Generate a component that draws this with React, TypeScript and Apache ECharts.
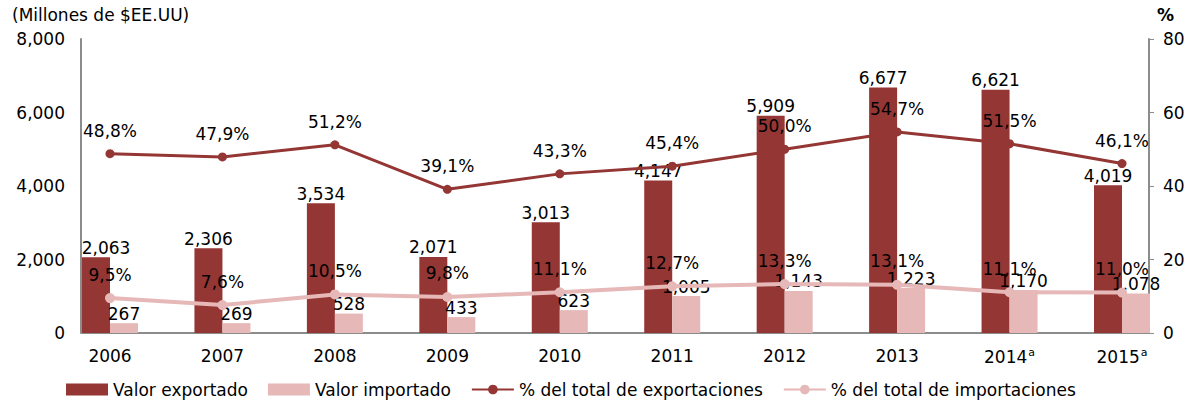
import React, { useEffect, useRef } from "react";
import * as echarts from "echarts";

const years = ["2006", "2007", "2008", "2009", "2010", "2011", "2012", "2013", "2014{sup|a}", "2015{sup|a}"];
const exportValues = [2063, 2306, 3534, 2071, 3013, 4147, 5909, 6677, 6621, 4019];
const importValues = [267, 269, 528, 433, 623, 1005, 1143, 1223, 1170, 1078];
const exportShare = [48.8, 47.9, 51.2, 39.1, 43.3, 45.4, 50.0, 54.7, 51.5, 46.1];
const importShare = [9.5, 7.6, 10.5, 9.8, 11.1, 12.7, 13.3, 13.1, 11.1, 11.0];
const leftTicks = { min: 0, max: 8000, interval: 2000 };
const rightTicks = { min: 0, max: 80, interval: 20 };

const DARK = "#943634";
const LIGHT = "#E6B9B8";
const FONT = "DejaVu Sans";
const FS = 17;

const W = 1196;
const H = 402;
const GRID_LEFT = 110;
const GRID_RIGHT = 74;
const GRID_TOP = 39;
const GRID_BOTTOM = 69;
const AXIS_LEFT_X = 81;
const AXIS_RIGHT_X = 1149;

const fmtNum = (v: number) => v.toLocaleString("en-US");
const fmtPct = (v: number) => v.toFixed(1).replace(".", ",") + "%";

export default function App() {
  const ref = useRef<HTMLDivElement>(null);
  useEffect(() => {
    if (!ref.current) return;
    const chart = echarts.init(ref.current, null, { renderer: "svg" });
    const labelBase = { color: "#000", fontFamily: FONT, fontSize: FS };
    chart.setOption({
      animation: false,
      textStyle: { fontFamily: FONT },
      title: [
        {
          text: "(Millones de $EE.UU)",
          left: 12,
          top: 6,
          padding: 0,
          textStyle: { fontFamily: FONT, fontSize: FS, fontWeight: "normal", color: "#000" },
        },
        {
          text: "%",
          left: 1157,
          top: 6,
          padding: 0,
          textStyle: { fontFamily: FONT, fontSize: FS, fontWeight: "bold", color: "#000" },
        },
      ],
      grid: { left: GRID_LEFT, right: GRID_RIGHT, top: GRID_TOP, bottom: GRID_BOTTOM, containLabel: false },
      legend: {
        top: 381,
        left: 66,
        padding: 0,
        itemWidth: 42,
        itemHeight: 12,
        itemGap: 20,
        textStyle: { fontFamily: FONT, fontSize: FS, color: "#000" },
        data: [
          { name: "Valor exportado", icon: "rect" },
          { name: "Valor importado", icon: "rect" },
          "% del total de exportaciones",
          "% del total de importaciones",
        ],
      },
      xAxis: {
        type: "category",
        data: years,
        boundaryGap: false,
        axisLine: { show: false },
        axisTick: { show: false },
        axisLabel: {
          interval: 0,
          color: "#000",
          fontFamily: FONT,
          fontSize: FS,
          margin: 14,
          rich: {
            sup: { fontSize: 11, fontFamily: FONT, color: "#000", verticalAlign: "top", padding: [0, 0, 9, 1] },
          },
        },
      },
      yAxis: [
        {
          type: "value",
          ...leftTicks,
          position: "left",
          offset: GRID_LEFT - AXIS_LEFT_X,
          axisLine: { show: true, lineStyle: { color: "#8c8c8c", width: 2 } },
          axisTick: { show: false },
          splitLine: { show: false },
          axisLabel: {
            color: "#000",
            fontFamily: FONT,
            fontSize: FS,
            margin: 16,
            formatter: (v: number) => fmtNum(v),
          },
        },
        {
          type: "value",
          ...rightTicks,
          position: "right",
          offset: AXIS_RIGHT_X - (W - GRID_RIGHT),
          axisLine: { show: true, lineStyle: { color: "#8c8c8c", width: 2 } },
          axisTick: { show: true, length: 5, lineStyle: { color: "#8c8c8c" } },
          splitLine: { show: false },
          axisLabel: { color: "#000", fontFamily: FONT, fontSize: FS, margin: 14 },
        },
      ],
      graphic: [
        {
          type: "line",
          shape: { x1: AXIS_LEFT_X, y1: H - GRID_BOTTOM, x2: AXIS_RIGHT_X, y2: H - GRID_BOTTOM },
          style: { stroke: "#8c8c8c", lineWidth: 2 },
          z: 1,
        },
      ],
      series: [
        {
          name: "Valor exportado",
          type: "bar",
          yAxisIndex: 0,
          barWidth: 28,
          barGap: "0%",
          itemStyle: { color: DARK },
          z: 2,
          data: exportValues.map((v, i) =>
            i === 0 ? { value: v, label: { offset: [10, 0] } } : v
          ),
          label: {
            show: true,
            position: "top",
            distance: 1,
            ...labelBase,
            formatter: (p: any) => fmtNum(p.value),
          },
        },
        {
          name: "Valor importado",
          type: "bar",
          yAxisIndex: 0,
          barWidth: 28,
          barGap: "0%",
          itemStyle: { color: LIGHT },
          z: 2,
          data: importValues,
          label: {
            show: true,
            position: "top",
            distance: 1,
            ...labelBase,
            formatter: (p: any) => fmtNum(p.value),
          },
        },
        {
          name: "% del total de exportaciones",
          type: "line",
          yAxisIndex: 1,
          data: exportShare,
          symbol: "circle",
          symbolSize: 9,
          lineStyle: { color: DARK, width: 3 },
          itemStyle: { color: DARK },
          z: 5,
          label: {
            show: true,
            position: "top",
            distance: 10,
            ...labelBase,
            formatter: (p: any) => fmtPct(p.value),
          },
        },
        {
          name: "% del total de importaciones",
          type: "line",
          yAxisIndex: 1,
          data: importShare,
          symbol: "circle",
          symbolSize: 10,
          lineStyle: { color: LIGHT, width: 4 },
          itemStyle: { color: LIGHT },
          z: 5,
          label: {
            show: true,
            position: "top",
            distance: 10,
            ...labelBase,
            formatter: (p: any) => fmtPct(p.value),
          },
        },
      ],
    });
    return () => chart.dispose();
  }, []);
  return <div ref={ref} style={{ width: W, height: H, position: "absolute", left: 0, top: 0 }} />;
}
